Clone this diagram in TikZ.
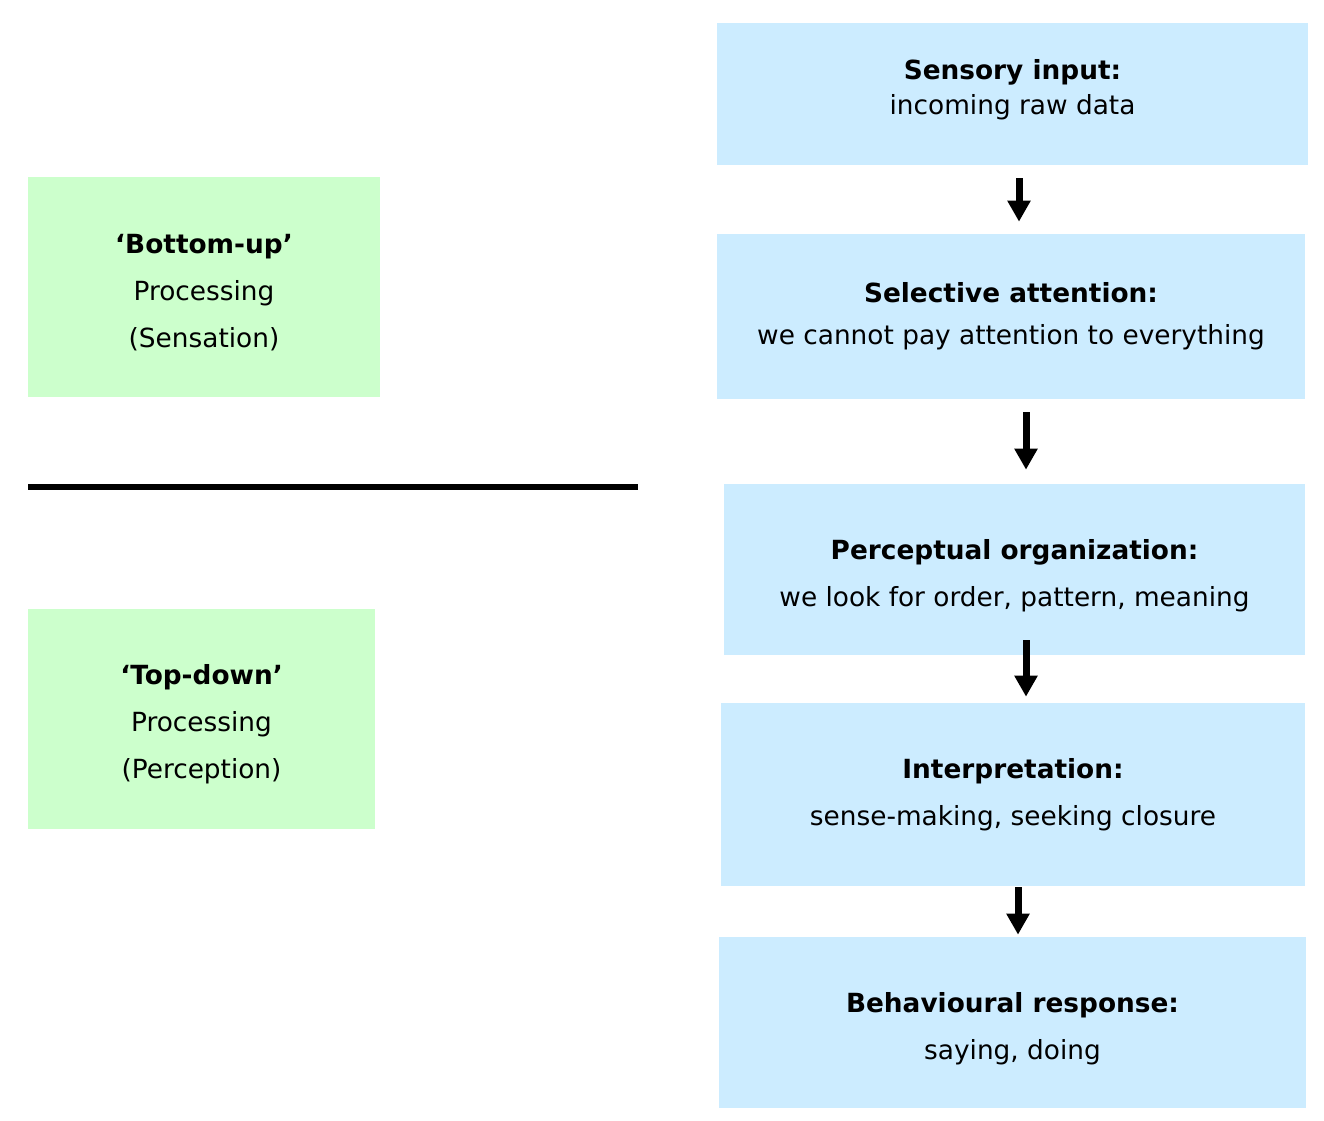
\documentclass[tikz,border=0pt]{standalone}
\usepackage{fontspec}
\setmainfont{DejaVu Sans}
\usetikzlibrary{arrows.meta, positioning}
\definecolor{stagecolor}{RGB}{204, 236, 255}
\definecolor{modecolor}{RGB}{204, 255, 204}
% struts to nudge the text block inside a box
\newcommand{\topstrut}[1]{\rule{0pt}{#1}}
\newcommand{\botstrut}[1]{\rule[-#1]{0pt}{#1}}

\begin{document}
\begin{tikzpicture}[x=0.02cm, y=-0.02cm,
    stage/.style={rectangle, fill=stagecolor, inner sep=0pt, align=center,
                  font=\fontsize{15}{26.8}\selectfont},
    mode/.style={rectangle, fill=modecolor, inner sep=0pt, align=center,
                 minimum height=4.4cm, font=\fontsize{15}{26.8}\selectfont},
    flow/.style={-{Triangle[width=0.44cm, length=0.42cm]}, line width=0.14cm},
    divider/.style={line width=0.12cm}
]
\useasboundingbox (0,0) rectangle (1324,1120);

% Left side - processing modes
\node[mode, minimum width=7.04cm] (bottomup) at (204,287) {\topstrut{17pt}\textbf{‘Bottom-up’}\\Processing\\(Sensation)};
\node[mode, minimum width=6.94cm] (topdown) at (201.5,719) {\topstrut{17pt}\textbf{‘Top-down’}\\Processing\\(Perception)};
\draw[divider] (28,487) -- (638,487);

% Right side - stages
\node[stage, minimum width=11.82cm, minimum height=2.84cm] (sensory) at (1012.5,94) {\textbf{Sensory input:}\\[-6.5pt]incoming raw data\botstrut{8pt}};
\node[stage, minimum width=11.76cm, minimum height=3.3cm] (selective) at (1011,316.5) {\textbf{Selective attention:}\\[-3pt]we cannot pay attention to everything};
\node[stage, minimum width=11.62cm, minimum height=3.42cm] (perceptual) at (1014.5,569.5) {\topstrut{18pt}\textbf{Perceptual organization:}\\we look for order, pattern, meaning};
\node[stage, minimum width=11.68cm, minimum height=3.66cm] (interpret) at (1013,794.5) {\textbf{Interpretation:}\\sense-making, seeking closure};
\node[stage, minimum width=11.74cm, minimum height=3.42cm] (response) at (1012.5,1022.5) {\topstrut{18pt}\textbf{Behavioural response:}\\saying, doing};

% Arrows
\foreach \a/\b/\dx/\s/\e in {sensory/selective/0.13/0.26/0.24,
                             selective/perceptual/0.3/0.26/0.28,
                             perceptual/interpret/0.23/-0.3/0.12,
                             interpret/response/0.1/0.02/0.04}
    \draw[flow, shorten <=\s cm, shorten >=\e cm] ([xshift=\dx cm]\a.south) -- ([xshift=\dx cm]\a.south |- \b.north);

\end{tikzpicture}
\end{document}
